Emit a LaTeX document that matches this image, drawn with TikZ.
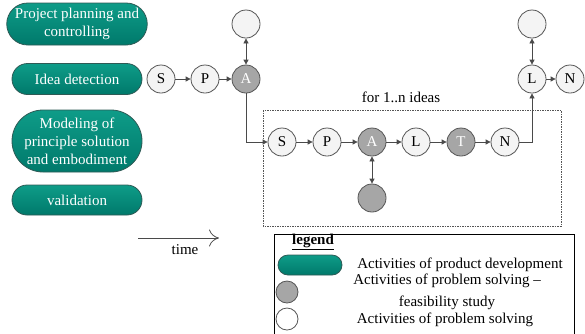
\documentclass[tikz,border=0pt]{standalone}
\usepackage{fontspec}
\setmainfont{Liberation Serif}[Ligatures=TeX]
\newfontfamily\timesface{Liberation Serif}[Ligatures=TeX]
\usetikzlibrary{shapes.misc,arrows.meta}
\definecolor{tealtop}{HTML}{0E9C88}
\definecolor{tealbot}{HTML}{00796B}
\definecolor{pillrim}{HTML}{2E5A55}
\definecolor{rimgrey}{HTML}{555555}
\definecolor{darkfill}{HTML}{A6A6A6}
\definecolor{lightfill}{HTML}{F4F4F4}
\definecolor{wire}{HTML}{4A4A4A}
\tikzset{
  txt/.style={font=\timesface\fontsize{15}{18}\selectfont},
  pill/.style={rounded rectangle, draw=pillrim, line width=0.8pt,
    top color=tealtop, bottom color=tealbot, text=white,
    minimum width=132pt, align=center, inner sep=1pt, txt},
  lightstep/.style={circle, draw=rimgrey, line width=0.8pt, fill=lightfill,
    minimum size=28pt, inner sep=0pt, txt},
  darkstep/.style={lightstep, fill=darkfill, text=white},
  flow/.style={draw=wire, line width=0.8pt, -{Triangle[length=5pt,width=5pt]}},
  twoway/.style={draw=wire, line width=0.8pt, {Triangle[length=5pt,width=5pt]}-{Triangle[length=5pt,width=5pt]}},
  plain/.style={txt, inner sep=0pt, align=center}
}
\begin{document}
\begin{tikzpicture}[x=1pt,y=-1pt]
\useasboundingbox (0,0) rectangle (585,333);

% activities of product development
\node[pill, minimum height=42pt] (plan) at (77,24) {Project planning and\\controlling};
\node[pill, minimum height=31pt] (idea) at (77,79) {Idea detection};
\node[pill, minimum height=62pt] (model) at (77,141) {Modeling of\\principle solution\\and embodiment};
\node[pill, minimum height=30pt] (valid) at (77,200) {validation};

% first problem solving chain
\node[lightstep] (s1) at (161,79) {S};
\node[lightstep] (p1) at (205,79) {P};
\node[darkstep] (a1) at (246,79) {A};
\node[lightstep] (u1) at (246,24) {};

% loop for every idea
\draw[draw=rimgrey, line width=0.6pt, dash pattern=on 1.5pt off 1pt] (263,110) rectangle (561,226);
\node[plain] (loop) at (401,97) {for 1..n ideas};
\node[lightstep] (s2) at (282,142) {S};
\node[lightstep] (p2) at (327,142) {P};
\node[darkstep] (a2) at (372,142) {A};
\node[lightstep] (l2) at (416,142) {L};
\node[darkstep] (t2) at (461,142) {T};
\node[lightstep] (n2) at (505,142) {N};
\node[darkstep] (d2) at (372,198) {};

% closing chain
\node[lightstep] (l1) at (532,79) {L};
\node[lightstep] (n1) at (570,79) {N};
\node[lightstep] (u2) at (532,24) {};

% connectors
\draw[flow] (s1) -- (p1);
\draw[flow] (p1) -- (a1);
\draw[twoway] (a1) -- (u1);
\draw[flow] (a1) |- (s2);
\draw[flow] (s2) -- (p2);
\draw[flow] (p2) -- (a2);
\draw[flow] (a2) -- (l2);
\draw[flow] (l2) -- (t2);
\draw[flow] (t2) -- (n2);
\draw[twoway] (a2) -- (d2);
\draw[flow] (n2) -| (l1);
\draw[twoway] (l1) -- (u2);
\draw[flow] (l1) -- (n1);

% time axis
\coordinate (t0) at (138,238);
\coordinate (t1) at (219,238);
\draw[draw=wire, line width=0.8pt, -{To[length=10pt,width=17pt,line width=0.8pt]}] (t0) -- (t1);
\node[plain] (time) at (185,250) {time};

% legend
\draw[draw=black, line width=0.7pt] (274,336) |- (574,234) -- (574,336);
\node[plain] (lgtitle) at (313,242) {\underline{\textbf{legend}}};
\node[pill, minimum width=66pt, minimum height=20pt] (lgpill) at (310,265) {};
\node[darkstep, minimum size=22pt] (lgdark) at (287,292) {};
\node[lightstep, minimum size=22pt, fill=white] (lglight) at (287,319) {};
\node[plain] (lgt1) at (460,265) {Activities of product development};
\node[plain, font=\timesface\fontsize{15}{22}\selectfont] (lgt2) at (447,292) {Activities of problem solving --\\feasibility study};
\node[plain] (lgt3) at (445,320) {Activities of problem solving};
\end{tikzpicture}
\end{document}
